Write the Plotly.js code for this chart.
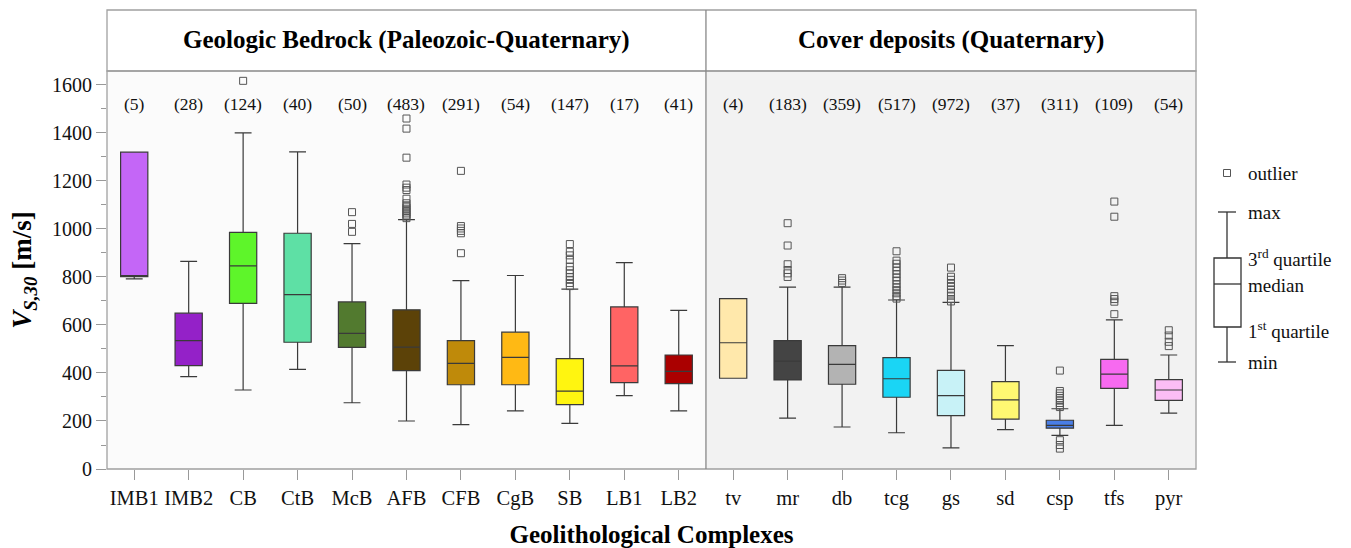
<!DOCTYPE html>
<html>
<head>
<meta charset="utf-8">
<script src="https://cdn.plot.ly/plotly-3.0.1.min.js"></script>
<style>html,body{margin:0;padding:0;background:#fff;}#chart{width:1351px;height:548px;}</style>
</head>
<body>
<div id="chart"></div>
<script>
// ---- data ----
const categories = ["IMB1","IMB2","CB","CtB","McB","AFB","CFB","CgB","SB","LB1","LB2","tv","mr","db","tcg","gs","sd","csp","tfs","pyr"];
const counts     = [5,28,124,40,50,483,291,54,147,17,41,4,183,359,517,972,37,311,109,54];
const lowerFence = [792,385,329,415,276,200,185,242,190,306,242,378,212,175,151,88,164,140,182,233];
const q1Values   = [801,431,690,528,507,410,351,351,268,360,356,378,371,353,299,222,208,170,336,286];
const medians    = [806,535,846,726,565,508,440,465,324,430,407,526,449,436,376,306,288,182,395,329];
const q3Values   = [1320,649,986,982,696,663,535,570,460,675,475,710,535,514,464,411,364,203,457,372];
const upperFence = [1320,865,1400,1321,939,1039,785,806,749,860,661,710,758,758,704,694,514,251,621,475];
const outliers = [
  [],
  [],
  [1617],
  [],
  [1070,1021,988],
  [1460,1418,1297,1185,1172,1162,1126,1107,1098,1090,1082,1075,1068,1060,1052,1045],
  [1242,1012,1002,992,982,899],
  [],
  [937,905,890,871,843,828,815,800,788,775,762],
  [],
  [],
  [],
  [1024,931,853,829,815,800],
  [795,785,775],
  [907,868,855,840,826,812,798,785,770,757,745,732,720,710],
  [839,801,788,775,762,748,735,722,708,698],
  [],
  [410,325,315,305,295,285,275,265,258,120,100,85],
  [1114,1051,720,708,697,645],
  [578,556,530,512]
];
const boxColors = ["#c466f7","#9421c8","#5ef52a","#5ee0a5","#527a2f","#5c4208","#bf8a0a","#ffb914","#fff510","#ff6464","#aa0000","#ffe8ab","#444444","#b3b3b3","#1ad5f5","#c8f2f7","#fff872","#4a7ee6","#f76af0","#fbbdf5"];
const groupTitles = ["Geologic Bedrock (Paleozoic-Quaternary)", "Cover deposits (Quaternary)"];
const yTicks = [0,200,400,600,800,1000,1200,1400,1600];

// ---- layout geometry ----
const W = 1351, H = 548;
const M = {l:107, r:155, t:71, b:79};
const PW = W - M.l - M.r, PH = H - M.t - M.b;
const px = x => (x - M.l) / PW;
const py = y => (H - M.b - y) / PH;
const SERIF = "Liberation Serif, Times New Roman, serif";

const traces = [];
categories.forEach((c, i) => {
  traces.push({
    type: "box", x: [c], q1: [q1Values[i]], median: [medians[i]], q3: [q3Values[i]],
    lowerfence: [lowerFence[i]], upperfence: [upperFence[i]],
    boxpoints: false, width: 0.5, whiskerwidth: 0.62,
    fillcolor: boxColors[i], line: {color: "#3a3a3a", width: 1.2},
    showlegend: false, hoverinfo: "skip"
  });
  if (outliers[i].length) {
    traces.push({
      type: "scatter", mode: "markers", x: outliers[i].map(() => c), y: outliers[i],
      marker: {symbol: "square-open", size: 7, color: "#555", line: {width: 1}},
      showlegend: false, hoverinfo: "skip", cliponaxis: false
    });
  }
});

const annotations = categories.map((c, i) => ({
  x: c, y: 1520, xref: "x", yref: "y", text: "(" + counts[i] + ")", showarrow: false,
  font: {family: SERIF, size: 17.5, color: "#111"}
}));
// group headers
const divIdx = 10.5;
annotations.push({x: 5, y: py(40), xref: "x", yref: "paper", yanchor: "middle", text: "<b>" + groupTitles[0] + "</b>", showarrow: false, font: {family: SERIF, size: 25, color: "#000"}});
annotations.push({x: 15, y: py(40), xref: "x", yref: "paper", yanchor: "middle", text: "<b>" + groupTitles[1] + "</b>", showarrow: false, font: {family: SERIF, size: 25, color: "#000"}});
// legend labels
const legLabels = [["outlier",173],["max",212],["3<sup>rd</sup> quartile",258],["median",285],["1<sup>st</sup> quartile",330],["min",362]];
legLabels.forEach(([t, y]) => annotations.push({
  x: px(1246), y: py(y), xref: "paper", yref: "paper", text: t, showarrow: false,
  xanchor: "left", yanchor: "middle", font: {family: SERIF, size: 19, color: "#111"}
}));

const frame = "#a0a0a0";
const shapes = [
  // panel backgrounds
  {type:"rect", xref:"x", yref:"paper", x0:-0.5, x1:divIdx, y0:0, y1:1, fillcolor:"#fbfbfb", line:{width:0}, layer:"below"},
  {type:"rect", xref:"x", yref:"paper", x0:divIdx, x1:19.5, y0:0, y1:1, fillcolor:"#f2f2f2", line:{width:0}, layer:"below"},
  // header band
  {type:"rect", xref:"paper", yref:"paper", x0:0, x1:1, y0:1, y1:py(10), fillcolor:"#fff", line:{color:frame, width:1.3}},
  // plot frame
  {type:"rect", xref:"paper", yref:"paper", x0:0, x1:1, y0:0, y1:1, line:{color:frame, width:1.3}},
  // divider
  {type:"line", xref:"x", yref:"paper", x0:divIdx, x1:divIdx, y0:0, y1:py(10), line:{color:"#888", width:1.3}},
  // legend glyph
  {type:"rect", xref:"paper", yref:"paper", x0:px(1223.5), x1:px(1230.5), y0:py(169.5), y1:py(176.5), line:{color:"#555", width:1}},
  {type:"line", xref:"paper", yref:"paper", x0:px(1218), x1:px(1236), y0:py(212), y1:py(212), line:{color:"#333", width:1.3}},
  {type:"line", xref:"paper", yref:"paper", x0:px(1227), x1:px(1227), y0:py(212), y1:py(258), line:{color:"#333", width:1.3}},
  {type:"rect", xref:"paper", yref:"paper", x0:px(1214), x1:px(1241), y0:py(258), y1:py(327), fillcolor:"#fff", line:{color:"#333", width:1.3}},
  {type:"line", xref:"paper", yref:"paper", x0:px(1214), x1:px(1241), y0:py(284), y1:py(284), line:{color:"#333", width:1.3}},
  {type:"line", xref:"paper", yref:"paper", x0:px(1227), x1:px(1227), y0:py(327), y1:py(362), line:{color:"#333", width:1.3}},
  {type:"line", xref:"paper", yref:"paper", x0:px(1218), x1:px(1236), y0:py(362), y1:py(362), line:{color:"#333", width:1.3}}
];

const layout = {
  width: W, height: H,
  margin: {l: M.l, r: M.r, t: M.t, b: M.b, pad: 0},
  paper_bgcolor: "#fff", plot_bgcolor: "rgba(0,0,0,0)",
  font: {family: SERIF, color: "#111"},
  xaxis: {
    type: "category", categoryarray: categories, range: [-0.5, 19.5],
    showgrid: false, zeroline: false, showline: false,
    ticks: "outside", ticklen: 10, tickcolor: "#999", tickwidth: 1,
    tickfont: {family: SERIF, size: 20.5, color: "#111"},
    title: {text: "<b>Geolithological Complexes</b>", font: {family: SERIF, size: 25, color: "#000"}, standoff: 16}
  },
  yaxis: {
    range: [0, 1658], tickvals: yTicks, showgrid: false, zeroline: false, showline: false,
    ticks: "outside", ticklen: 10, tickcolor: "#999", tickwidth: 1,
    minor: {dtick: 100, ticks: "outside", ticklen: 5, tickcolor: "#999", showgrid: false},
    tickfont: {family: SERIF, size: 20, color: "#111"},
    title: {text: "<b><i>V</i><sub><i>S,30</i></sub> [m/s]</b>", font: {family: SERIF, size: 27, color: "#000"}, standoff: 12}
  },
  shapes: shapes,
  annotations: annotations,
  showlegend: false
};

Plotly.newPlot("chart", traces, layout, {staticPlot: true});
</script>
</body>
</html>
